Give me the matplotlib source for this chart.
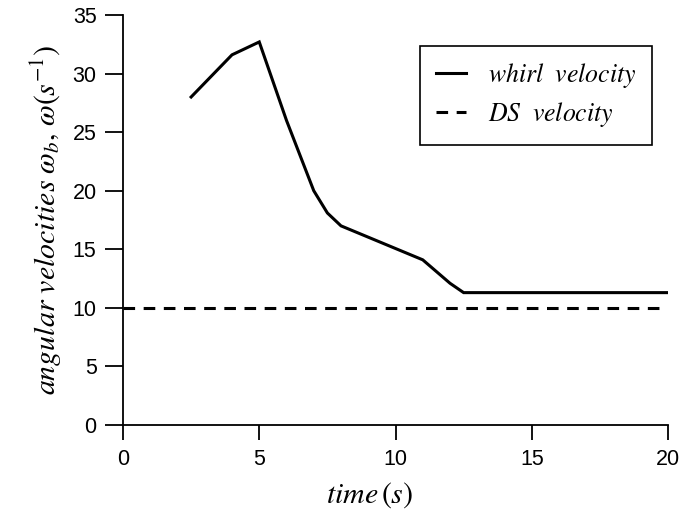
import matplotlib
matplotlib.use("Agg")
import matplotlib.pyplot as plt

plt.rcParams['mathtext.fontset'] = 'stix'
plt.rcParams['font.family'] = ['Liberation Sans', 'DejaVu Sans']

# data
time_whirl = [2.5, 4.0, 5.0, 6.0, 7.0, 7.5, 8.0, 11.0, 12.0, 12.5, 20.0]
whirl_velocity = [28.0, 31.6, 32.7, 26.0, 20.0, 18.1, 17.0, 14.1, 12.1, 11.3, 11.3]
time_ds = [0.0, 20.0]
ds_velocity = [10.0, 10.0]
x_ticks = [0, 5, 10, 15, 20]
y_ticks = [0, 5, 10, 15, 20, 25, 30, 35]

fig = plt.figure(figsize=(6.87, 5.14), dpi=100)
ax = fig.add_axes([123/687, 1-425/514, (668-123)/687, (425-15)/514])

ax.plot(time_whirl, whirl_velocity, color='black', lw=2.2, solid_joinstyle='miter',
        label=r'$whirl\ \ velocity$')
ax.plot(time_ds, ds_velocity, color='black', lw=2.2, linestyle=(0, (3.8, 2.8)),
        label=r'$DS\ \ velocity$')

ax.set_xlim(0, 20)
ax.set_ylim(0, 35)
ax.set_xticks(x_ticks)
ax.set_yticks(y_ticks)
ax.spines['top'].set_visible(False)
ax.spines['right'].set_visible(False)
for s in ['left', 'bottom']:
    ax.spines[s].set_linewidth(1.3)
ax.tick_params(axis='y', direction='out', length=13, width=1.3, labelsize=15.5, pad=6)
ax.tick_params(axis='x', direction='out', length=11, width=1.3, labelsize=15.5, pad=6)

ax.set_xlabel(r'$time\,(s)$', fontsize=21.5, labelpad=4)
ax.xaxis.set_label_coords(0.453, -0.135)
ax.set_ylabel(r'$angular\ velocities\ \omega_b,\,\omega(s^{-1})$', fontsize=21.5, labelpad=6)

leg = ax.legend(loc='upper right', bbox_to_anchor=(652/687, 1-46/514),
                bbox_transform=fig.transFigure, borderaxespad=0,
                fontsize=18.5, handlelength=1.2, handletextpad=0.85,
                borderpad=0.6, labelspacing=0.38, fancybox=False,
                frameon=True, edgecolor='black', framealpha=1)
leg.get_frame().set_linewidth(1.2)

fig.savefig('out.png', dpi=100)
